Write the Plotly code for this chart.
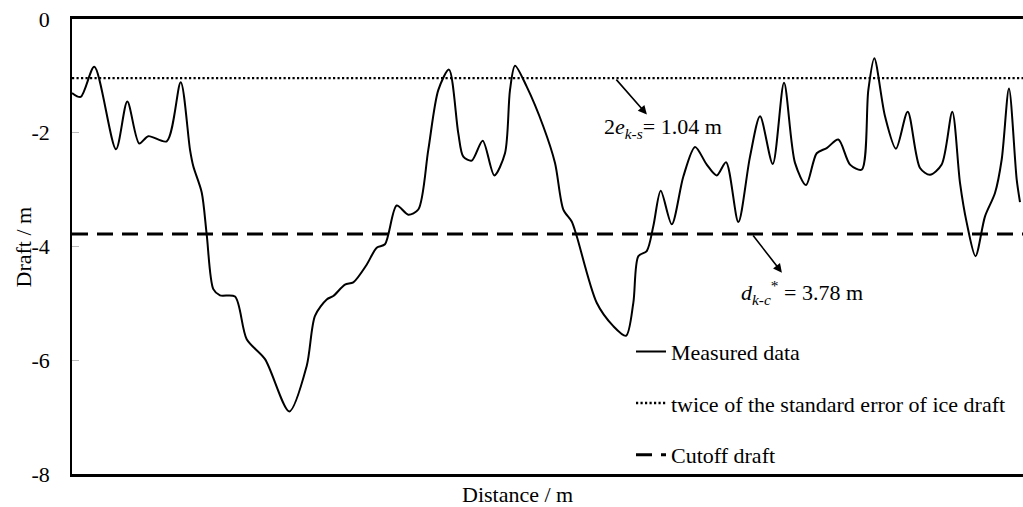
import plotly.graph_objects as go

# Ice draft profile along the transect
distance_m = [0.0, 1.83, 4.69, 9.25, 11.63, 14.15, 16.05, 19.92, 22.86, 24.82, 25.51, 27.28,
              28.33, 29.72, 31.12, 34.28, 36.74, 40.59, 45.70, 49.36, 51.10, 53.57, 54.95,
              57.41, 59.16, 61.97, 64.08, 65.82, 68.28, 70.72, 72.83, 74.93, 77.03, 79.28,
              81.24, 82.29, 84.06, 86.37, 88.81, 91.06, 92.11, 93.17, 95.63, 99.12, 101.58,
              103.33, 105.09, 106.15, 110.35, 113.84, 116.51, 118.05, 119.10, 120.87, 122.26,
              123.81, 126.13, 128.57, 131.03, 133.49, 135.59, 137.55, 140.13, 142.59, 144.70,
              147.37, 149.74, 152.05, 154.37, 156.62, 158.72, 161.16, 163.62, 166.08, 167.47,
              168.73, 170.98, 173.29, 175.75, 178.34, 180.44, 182.90, 185.13, 186.75, 188.16,
              190.01, 192.01, 194.11, 195.52, 197.05, 198.67, 199.37]
draft_m = [-1.30, -1.37, -0.84, -2.29, -1.45, -2.19, -2.06, -2.15, -1.11, -2.30, -2.59, -3.05,
           -3.79, -4.75, -4.86, -4.88, -5.63, -5.98, -6.90, -6.10, -5.22, -4.93, -4.87,
           -4.67, -4.63, -4.32, -4.02, -3.96, -3.28, -3.44, -3.35, -2.30, -1.25, -0.89,
           -2.01, -2.42, -2.49, -2.14, -2.75, -2.36, -1.25, -0.82, -1.19, -1.89, -2.53,
           -3.35, -3.56, -3.82, -4.99, -5.40, -5.57, -4.99, -4.17, -4.08, -3.64,
           -3.02, -3.61, -2.77, -2.25, -2.56, -2.75, -2.52, -3.57, -2.42, -1.71,
           -2.55, -1.12, -2.53, -2.92, -2.36, -2.27, -2.12, -2.56, -2.65, -1.25,
           -0.69, -1.71, -2.28, -1.63, -2.62, -2.74, -2.56, -1.63, -2.88, -3.58,
           -4.17, -3.47, -3.06, -2.47, -1.22, -2.82, -3.22]

# Reference levels
x_span = [0, 200]
std_error_level = -1.04   # 2e_{k-s}
cutoff_level = -3.78      # d_{k-c}*

y_ticks = [0, -2, -4, -6, -8]
y_tick_text = ["0", "-2", "-4", "-6", "-8"]

FONT = "Liberation Serif"
FS = 22

fig = go.Figure()
fig.add_trace(go.Scatter(
    x=distance_m, y=draft_m, mode="lines", name="Measured data",
    line=dict(color="black", width=2, shape="spline", smoothing=0.8),
    legendgroup="a"))
fig.add_trace(go.Scatter(
    x=x_span, y=[std_error_level] * 2, mode="lines",
    name="twice of the standard error of ice draft",
    line=dict(color="black", width=2.4, dash="2.2px,2.3px"),
    legendgroup="b"))
fig.add_trace(go.Scatter(
    x=x_span, y=[cutoff_level] * 2, mode="lines", name="Cutoff draft",
    line=dict(color="black", width=3, dash="16px,9px"),
    legendgroup="c"))

# Labelled arrows pointing at the two reference lines
fig.add_annotation(x=120.9, y=-1.68, ax=114.2, ay=std_error_level, axref="x", ayref="y",
                   xref="x", yref="y", text="", showarrow=True, arrowhead=2,
                   arrowsize=1.1, arrowwidth=1.6, arrowcolor="black")
fig.add_annotation(x=124.3, y=-1.91, xref="x", yref="y", showarrow=False,
                   text="2<i>e</i><sub><i>k-s</i></sub>= 1.04 m",
                   font=dict(family=FONT, size=FS, color="black"))
fig.add_annotation(x=149.3, y=-4.46, ax=143.0, ay=cutoff_level, axref="x", ayref="y",
                   xref="x", yref="y", text="", showarrow=True, arrowhead=2,
                   arrowsize=1.1, arrowwidth=1.6, arrowcolor="black")
fig.add_annotation(x=153.5, y=-4.81, xref="x", yref="y", showarrow=False,
                   text="<i>d</i><sub><i>k-c</i></sub><sup>*</sup> = 3.78 m",
                   font=dict(family=FONT, size=FS, color="black"))

# Axis titles
fig.add_annotation(x=0.468, y=-0.046, xref="paper", yref="paper", showarrow=False,
                   text="Distance / m", yanchor="middle",
                   font=dict(family=FONT, size=FS, color="black"))
fig.add_annotation(x=-0.0505, y=0.5, xref="paper", yref="paper", showarrow=False,
                   text="Draft / m", textangle=-90, xanchor="center",
                   font=dict(family=FONT, size=FS, color="black"))

fig.update_layout(
    width=1023, height=507,
    margin=dict(l=72, r=0, t=19, b=33),
    paper_bgcolor="white", plot_bgcolor="white",
    font=dict(family=FONT, size=FS, color="black"),
    showlegend=True,
    legend=dict(x=0.5878, y=0.315, xanchor="left", yanchor="top",
                bgcolor="rgba(0,0,0,0)", tracegroupgap=20,
                font=dict(family=FONT, size=FS, color="black")),
    xaxis=dict(range=x_span, showticklabels=False, ticks="", showgrid=False,
               zeroline=False, showline=True, linecolor="black", linewidth=2.5,
               mirror=True),
    yaxis=dict(range=[-8, 0], tickvals=y_ticks, ticktext=y_tick_text,
               ticks="inside", ticklen=7, tickcolor="#bbbbbb", tickwidth=1,
               showgrid=False, zeroline=False, showline=True, linecolor="black",
               linewidth=1.5, ticklabelstandoff=16,
               tickfont=dict(family=FONT, size=FS, color="black")),
)

fig.write_html("out.html")
